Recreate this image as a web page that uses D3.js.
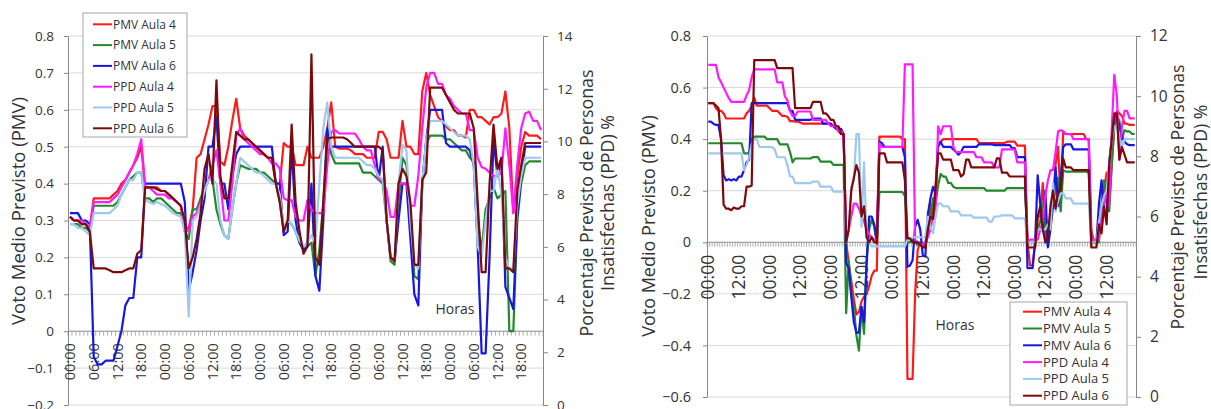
<!DOCTYPE html>
<html>
<head>
<meta charset="utf-8">
<script src="https://cdnjs.cloudflare.com/ajax/libs/d3/7.8.5/d3.min.js"></script>
<style>
  body { margin: 0; background: #fff; }
  svg { display: block; font-family: "Open Sans", "DejaVu Sans", sans-serif; }
  .serie { fill: none; stroke-width: 2.2; stroke-linejoin: round; }
</style>
</head>
<body>
<div id="grafico"></div>
<script>
// Global SVG size
var svgWidth = 1211;
var svgHeight = 409;

// Series names (legend order)
var nombresSeries = ["PMV Aula 4", "PMV Aula 5", "PMV Aula 6", "PPD Aula 4", "PPD Aula 5", "PPD Aula 6"];

// Tick labels of the hour axis
var etiquetasIzq = ["00:00", "06:00", "12:00", "18:00", "00:00", "06:00", "12:00", "18:00",
  "00:00", "06:00", "12:00", "18:00", "00:00", "06:00", "12:00", "18:00",
  "00:00", "06:00", "12:00", "18:00"];
var etiquetasDer = ["00:00", "12:00", "00:00", "12:00", "00:00", "12:00", "00:00",
  "12:00", "00:00", "12:00", "00:00", "12:00", "00:00", "12:00"];

// ---------- Left chart: hourly values (120 h) ----------
var pmvAula4Izq = [0.31,0.30,0.30,0.29,0.29,0.28,
  0.36,0.36,0.36,0.36,0.36,0.37,0.38,0.40,0.41,0.43,0.45,0.47,0.50,
  0.39,0.39,0.39,0.39,0.38,0.38,0.37,0.36,0.35,0.34,
  0.28,0.28,0.33,
  0.47,0.48,0.52,0.56,0.61,0.61,
  0.46,0.45,0.50,0.57,0.63,0.55,
  0.53,0.52,0.51,0.50,0.49,0.48,0.47,0.47,
  0.40,0.40,
  0.51,0.50,0.50,
  0.45,0.45,0.45,
  0.50,
  0.47,0.47,0.47,0.50,
  0.55,0.62,0.50,
  0.495,0.495,0.495,0.49,
  0.48,0.48,0.48,0.47,0.47,0.47,
  0.54,0.54,
  0.52,0.47,0.47,0.47,0.57,0.50,0.50,0.48,0.48,
  0.65,0.70,0.64,0.61,0.58,0.57,0.555,0.545,0.545,0.53,0.53,0.525,
  0.60,0.60,0.58,0.58,0.57,0.56,0.58,0.58,0.59,0.65,0.55,
  0.32,0.42,0.50,0.54,0.53,0.53,0.53,0.52];

var pmvAula5Izq = [0.29,0.29,0.29,0.28,0.28,0.27,
  0.34,0.34,0.34,0.34,0.34,0.34,0.35,0.37,0.39,0.41,0.42,0.43,0.43,
  0.36,0.36,0.35,0.36,0.36,0.35,0.34,0.33,0.32,0.32,
  0.27,0.25,0.33,0.33,0.36,0.39,
  0.41,0.41,0.33,0.29,0.26,0.25,0.33,0.40,0.45,
  0.445,0.44,0.44,0.44,0.43,0.43,0.42,0.41,
  0.40,0.35,0.27,0.30,0.29,0.27,0.24,0.22,0.23,0.24,0.15,0.22,0.35,0.55,0.48,0.455,
  0.455,0.455,0.455,0.455,0.455,0.455,
  0.43,0.43,0.43,0.42,0.41,0.40,
  0.30,0.19,0.18,0.35,0.47,0.45,0.30,0.15,0.14,0.40,0.51,
  0.53,0.53,0.53,0.53,0.52,0.52,0.51,0.50,0.49,0.49,0.47,0.46,
  0.30,0.22,0.33,0.36,0.39,0.36,0.37,0.38,0.00,0.00,
  0.30,0.40,0.45,0.46,0.46,0.46,0.46];

var pmvAula6Izq = [0.32,0.32,0.32,0.30,0.30,0.29,
  -0.07,-0.09,-0.09,-0.08,-0.08,-0.08,-0.04,0.00,0.07,0.09,0.09,0.20,0.20,
  0.40,0.40,0.40,0.40,0.40,0.40,0.40,0.40,0.40,0.40,
  0.35,0.11,0.16,0.22,0.30,0.36,0.50,0.50,0.58,0.40,0.40,0.33,0.42,0.48,0.50,
  0.50,0.50,0.50,0.50,0.50,0.50,0.50,0.50,
  0.40,0.40,0.26,0.27,0.50,0.30,0.24,0.22,0.23,0.40,0.15,0.11,0.30,0.55,0.50,0.50,
  0.50,0.50,0.50,0.50,0.50,0.50,0.50,0.50,0.50,0.50,
  0.41,0.50,0.30,0.20,0.19,0.30,0.40,0.40,0.25,0.10,0.07,0.40,0.52,
  0.60,0.60,0.60,0.60,0.51,0.50,0.50,0.50,0.50,0.50,0.49,0.45,
  0.23,-0.06,-0.06,0.20,0.52,0.42,0.47,0.12,0.09,0.06,
  0.31,0.42,0.50,0.50,0.50,0.50,0.50];

var ppdAula4Izq = [7.14,7.00,7.00,7.00,6.86,6.72,
  7.70,7.70,7.70,7.70,7.70,7.84,7.98,8.26,8.54,8.82,9.10,9.52,10.08,
  8.26,8.26,8.12,7.98,7.98,7.98,7.84,7.84,7.70,7.56,
  6.72,6.58,7.14,7.28,7.70,8.12,8.54,9.10,9.66,8.40,7.00,7.00,8.40,10.22,10.50,
  10.08,9.94,9.80,9.66,9.52,9.52,9.38,9.17,9.17,8.96,
  7.84,7.77,7.77,7.14,7.00,7.00,7.77,7.42,7.28,7.28,7.28,9.10,10.36,10.43,
  10.30,10.30,10.30,10.30,10.30,10.08,9.80,9.66,9.66,9.10,8.54,8.54,
  8.12,7.14,7.14,8.40,8.40,8.40,7.56,7.56,8.68,10.50,12.04,
  12.60,12.60,12.18,12.18,11.76,11.62,11.34,11.20,11.06,11.06,10.43,10.43,
  9.38,9.03,8.96,8.82,8.68,8.68,8.82,10.50,9.10,7.28,
  9.10,10.50,11.06,11.13,10.78,10.78,10.43];

var ppdAula5Izq = [6.86,6.86,6.72,6.72,6.58,6.44,
  7.28,7.28,7.28,7.28,7.28,7.42,7.56,7.98,8.26,8.54,8.54,8.82,8.82,
  7.77,7.70,7.63,7.70,7.63,7.56,7.42,7.28,7.21,7.14,
  6.58,3.36,7.00,7.14,7.56,8.12,8.54,8.54,8.40,7.00,6.44,6.30,7.42,8.40,9.38,
  9.24,9.10,8.96,8.82,8.82,8.68,8.54,8.40,8.40,7.98,
  6.72,7.00,6.86,6.58,6.23,6.02,6.16,6.44,6.16,8.40,10.50,11.48,9.80,9.38,
  9.38,9.38,9.38,9.38,9.38,9.38,9.24,9.10,9.10,8.96,8.68,8.54,
  7.00,5.60,5.46,8.40,9.87,9.66,7.00,5.32,5.18,8.40,10.08,
  10.78,10.78,10.78,10.78,10.64,10.50,10.36,10.22,10.22,10.22,10.08,9.10,
  6.02,5.60,7.00,8.12,8.12,9.03,7.98,5.60,5.18,5.18,
  7.56,8.68,9.38,9.38,9.38,9.38,9.38];

var ppdAula6Izq = [7.14,7.00,7.00,6.86,6.86,6.58,
  5.18,5.18,5.18,5.18,5.11,5.04,5.04,5.04,5.11,5.18,5.18,5.74,5.88,
  8.26,8.26,8.26,8.19,8.12,8.12,7.98,7.84,7.70,7.56,
  7.00,5.18,5.60,6.30,7.28,8.96,9.52,8.40,12.32,8.68,7.84,7.84,9.10,10.36,10.22,
  10.08,10.08,9.94,9.80,9.66,9.52,9.38,9.38,8.40,7.70,
  6.58,7.00,10.64,7.70,6.58,5.74,6.02,13.30,5.60,5.32,7.70,10.08,10.15,10.15,
  10.15,10.15,10.08,9.94,9.80,9.80,9.80,9.80,9.80,9.80,9.80,9.66,
  7.00,5.60,5.46,8.40,8.96,8.68,7.70,5.32,5.32,8.54,8.82,
  12.04,12.04,12.04,12.04,11.76,11.48,11.20,11.06,11.06,11.06,11.06,10.50,
  7.70,5.04,5.04,8.40,10.64,8.96,9.38,5.18,5.18,5.04,
  8.12,9.10,9.94,9.94,9.94,9.94,9.94];

// ---------- Right chart: hourly values (168 h) ----------
var pmvAula4Der = [0.54,0.54,0.54,
  0.52,0.51,0.51,0.50,
  0.48,0.48,0.48,0.48,0.48,0.48,0.48,0.48,
  0.50,0.51,
  0.53,0.56,0.53,0.53,0.53,0.53,0.53,0.52,
  0.51,0.51,0.51,0.50,0.49,0.49,0.487,
  0.47,0.47,0.468,0.468,0.465,
  0.46,0.46,0.46,0.46,0.46,0.46,0.46,0.46,0.46,0.46,0.46,0.46,
  0.45,0.445,0.43,0.42,0.42,
  0.0,-0.08,-0.15,-0.22,-0.28,-0.27,-0.23,-0.21,-0.20,-0.17,-0.13,-0.11,-0.11,
  0.41,0.41,0.41,0.41,0.41,0.41,0.41,0.41,0.41,0.40,0.40,
  -0.53,-0.53,-0.53,
  -0.20,-0.03,0.0,-0.01,-0.02,0.05,0.15,0.10,0.22,0.38,0.39,
  0.40,0.40,0.40,0.40,0.40,0.40,0.40,0.40,0.40,0.40,0.40,0.40,0.40,0.40,
  0.385,0.385,0.385,0.385,0.385,0.385,0.385,0.385,0.385,0.385,0.385,
  0.39,0.39,0.39,0.39,
  0.375,0.375,0.375,0.375,
  0.0,-0.09,-0.09,0.0,0.10,0.10,0.23,0.05,0.0,0.12,0.14,0.30,0.37,0.15,0.43,
  0.42,0.42,0.42,0.42,0.42,0.42,0.42,0.42,0.40,0.40,
  0.05,0.0,0.0,0.05,0.10,0.20,0.27,0.15,0.30,0.45,0.51,0.50,0.49,0.46,0.46,0.455,0.455,0.455];

var pmvAula5Der = [0.384,0.384,0.384,0.384,0.384,0.384,0.384,0.384,0.384,0.384,0.384,0.384,0.384,0.384,
  0.345,0.345,0.345,
  0.40,0.41,0.41,0.41,0.41,0.41,
  0.40,0.40,0.40,0.40,0.40,
  0.38,0.38,0.38,0.38,
  0.35,0.31,
  0.325,0.325,0.325,0.325,0.325,0.325,0.325,
  0.33,0.33,0.33,
  0.313,0.313,0.313,0.313,0.313,
  0.30,0.30,0.30,0.30,0.30,
  -0.275,-0.07,-0.20,-0.25,-0.36,-0.42,-0.25,-0.355,-0.08,0.05,0.09,0.06,0.0,
  0.195,0.195,0.195,0.195,0.195,0.195,0.195,0.195,0.195,0.195,0.18,
  0.0,0.0,0.01,0.0,-0.01,0.0,-0.01,0.0,0.05,0.10,0.17,0.15,0.22,
  0.265,0.255,0.255,0.23,0.23,0.215,
  0.21,0.21,0.21,0.21,0.21,0.21,0.21,0.21,0.21,0.21,0.21,0.21,
  0.20,0.20,0.20,0.20,0.20,0.20,0.20,0.20,
  0.21,0.21,0.21,0.21,0.21,0.21,0.21,0.21,
  0.01,0.0,0.0,0.0,0.05,0.08,0.15,0.0,0.0,0.10,0.15,0.20,0.25,0.12,0.28,
  0.274,0.274,0.274,0.274,0.274,0.274,0.274,0.274,0.274,0.27,
  0.01,0.0,0.0,0.0,0.15,0.24,0.18,0.12,0.30,0.45,0.49,0.47,0.40,0.435,0.43,0.43,0.42,0.42];

var pmvAula6Der = [0.468,0.468,0.46,0.455,0.455,
  0.40,0.26,0.24,0.245,0.24,0.245,0.24,0.255,0.255,0.28,0.31,0.32,
  0.54,0.54,0.54,0.54,0.54,0.54,0.54,0.54,0.54,0.54,0.54,0.54,0.54,0.54,0.54,
  0.51,0.51,
  0.475,0.475,0.475,0.475,0.475,0.475,0.475,
  0.48,0.48,0.48,0.48,
  0.46,0.46,0.46,0.46,0.45,0.44,0.44,0.44,0.42,
  -0.08,-0.10,-0.21,-0.31,-0.35,-0.35,-0.25,-0.31,-0.08,0.10,0.10,0.07,0.0,
  0.39,0.385,0.37,0.37,0.37,0.37,0.37,0.37,0.37,0.37,0.33,
  -0.095,-0.09,-0.07,0.06,0.087,0.05,-0.05,-0.055,0.11,0.17,0.215,0.19,0.37,0.39,
  0.37,0.37,0.37,0.37,0.36,0.35,0.34,0.35,0.37,0.37,0.37,0.37,0.37,0.37,0.38,0.38,0.38,0.38,0.38,0.38,
  0.377,0.377,0.377,0.377,0.377,0.377,0.377,0.365,0.365,0.33,0.33,0.33,0.33,
  -0.10,-0.10,-0.10,0.0,0.26,0.15,0.05,0.20,-0.02,0.05,0.14,0.29,0.14,0.25,0.37,
  0.38,0.38,0.38,0.36,0.36,0.36,0.36,0.36,0.36,0.36,
  0.0,0.0,0.0,0.15,0.24,0.11,0.10,0.31,0.40,0.49,0.49,0.45,0.41,0.39,0.38,0.377,0.377,0.377];

var ppdAula4Der = [11.04,11.04,11.04,11.04,
  10.63,10.46,10.29,10.11,9.94,
  9.81,9.81,9.81,9.81,9.81,9.81,
  10.03,10.20,10.63,
  10.89,10.89,10.89,10.89,10.89,10.89,10.89,10.89,10.89,
  10.46,10.46,10.46,
  9.99,9.86,9.51,9.34,9.34,
  9.49,9.49,9.49,9.49,9.49,9.49,
  9.21,9.21,9.21,9.21,9.21,9.21,
  9.09,
  9.00,9.00,9.00,
  8.83,8.83,8.74,
  5.14,5.57,6.00,6.43,6.43,6.26,6.00,5.83,5.57,5.40,5.31,5.23,5.23,
  8.44,
  8.31,8.31,8.31,8.31,8.31,8.31,8.31,8.31,8.31,
  11.06,11.06,11.06,11.06,
  5.23,5.14,5.06,5.06,5.14,5.31,5.57,6.00,6.00,
  9.00,8.74,9.00,9.00,9.00,9.00,
  8.31,8.14,8.14,8.14,8.14,8.14,8.14,8.14,8.14,7.97,7.97,7.97,7.80,7.80,7.80,7.80,
  7.63,7.63,7.63,8.23,8.23,8.23,8.23,8.23,8.23,7.80,7.80,7.80,7.80,
  5.14,5.23,5.23,5.23,5.23,5.57,5.83,6.69,7.20,7.54,7.54,8.14,8.83,8.87,8.83,
  8.74,8.74,8.74,8.57,8.57,8.57,8.57,8.57,8.57,8.57,
  5.14,5.23,5.23,5.23,6.00,6.34,6.86,6.34,8.91,10.71,10.03,7.89,9.00,9.51,9.51,9.26,9.26,9.26];

var ppdAula5Der = [8.10,8.10,8.10,8.10,8.10,8.10,8.10,8.10,8.10,8.10,8.10,8.10,8.10,8.10,
  7.54,7.71,7.97,8.40,8.57,8.57,
  8.31,8.31,8.31,8.31,8.31,8.31,8.23,7.97,7.97,7.97,7.97,7.71,7.33,7.33,
  7.11,7.11,7.11,7.11,7.11,7.11,7.11,7.16,7.16,7.16,
  6.99,6.99,6.99,6.99,6.99,6.83,6.83,6.83,6.83,6.83,
  5.14,5.57,6.99,7.20,8.74,8.74,5.66,7.80,5.31,5.14,5.01,5.01,5.01,
  5.01,5.01,5.01,5.01,5.01,5.01,5.01,5.01,5.01,5.01,5.01,
  5.23,5.23,5.31,5.31,5.31,5.31,5.31,5.31,6.00,5.66,5.44,6.00,6.43,6.43,
  6.34,6.34,6.34,6.17,6.17,6.17,6.17,6.04,6.04,6.04,6.04,6.04,5.96,5.96,5.96,5.96,5.96,5.96,5.83,5.83,
  6.00,6.00,6.00,6.04,6.04,6.04,6.04,6.04,5.94,5.94,5.94,5.94,5.94,
  5.14,5.14,5.14,5.14,5.57,5.57,5.57,5.57,5.74,5.57,7.11,6.17,6.51,6.77,6.77,
  6.60,6.60,6.60,6.43,6.43,6.43,6.43,6.43,6.43,6.43,
  5.14,5.14,5.14,5.83,6.34,6.69,6.86,7.71,8.57,9.00,9.00,8.57,8.31,8.57,8.57,8.57,8.57,8.57];

var ppdAula6Der = [9.77,9.77,9.77,9.69,9.60,8.57,6.39,
  6.26,6.26,6.21,6.30,6.26,6.26,
  6.34,6.34,
  6.99,6.99,7.03,
  11.20,11.20,11.20,11.20,11.20,11.20,11.20,11.20,11.20,
  10.93,10.93,10.93,10.93,10.93,10.93,10.93,
  9.60,9.60,9.60,9.60,9.60,9.60,9.60,
  9.81,9.81,9.81,9.81,
  9.43,9.43,9.34,
  9.21,9.21,
  9.00,9.00,
  8.74,8.74,
  5.14,5.57,6.86,7.29,7.71,7.46,6.00,6.34,5.31,5.14,5.31,5.14,5.14,
  8.10,8.10,8.10,
  7.80,7.80,7.80,7.80,7.80,7.80,7.80,
  7.20,
  5.27,5.27,
  5.14,5.14,5.14,5.06,4.97,4.97,
  5.57,6.00,5.91,6.86,
  8.10,8.10,
  7.89,7.89,7.89,7.89,
  7.54,7.54,7.54,
  7.33,7.41,
  7.89,7.89,
  7.63,7.63,7.63,7.63,7.63,7.63,7.63,7.63,7.63,
  7.63,
  7.93,7.93,
  7.46,7.46,7.46,
  7.33,7.33,7.33,7.33,7.33,7.33,7.33,
  4.97,4.97,4.97,4.97,
  6.00,6.34,5.57,5.14,5.31,6.34,6.86,6.26,6.86,6.86,7.93,
  7.63,7.63,7.63,
  7.54,7.54,7.54,7.54,7.54,7.54,7.54,
  4.97,4.97,4.97,
  5.74,5.44,6.34,5.74,7.71,8.57,9.43,9.43,7.89,8.31,8.06,7.80,7.80,7.80,7.80];

// Series colours (legend order)
var coloresSeries = ["#ff1a1a", "#23892b", "#1717e0", "#ff1aff", "#9ec8f0", "#7d0a0a"];

// Build chart configurations
var graficoIzq = {
  numHoras: 120, left: 68, right: 543, top: 36, bottom: 405,
  dominioPMV: [-0.2, 0.8], ticksPMV: d3.range(-2, 9).map(d => d / 10),
  dominioPPD: [0, 14], ticksPPD: d3.range(0, 15, 2),
  etiquetas: etiquetasIzq, paso: 6,
  pmv: [pmvAula4Izq, pmvAula5Izq, pmvAula6Izq],
  ppd: [ppdAula4Izq, ppdAula5Izq, ppdAula6Izq],
  fsTick: 13.5, fsTickDer: 13.5, fsEtiqueta: 14.5, sepEtiqueta: 12, padIzq: 10,
  tituloIzq: {x: 18.5, y: 211, largo: 228},
  tituloDer: [{x: 586.5, y: 203, largo: 267}, {x: 608, y: 203, largo: 183}],
  horas: {x: 455, y: 309},
  leyenda: {x: 83, y: 13, w: 104, h: 124, fila0: 24.3, paso: 20.8, lx1: 93, lx2: 112, tx: 113, fs: 12}
};

var graficoDer = {
  numHoras: 168, left: 707, right: 1136, top: 36, bottom: 397,
  dominioPMV: [-0.6, 0.8], ticksPMV: d3.range(-3, 5).map(d => d / 5),
  dominioPPD: [0, 12], ticksPPD: d3.range(0, 13, 2),
  etiquetas: etiquetasDer, paso: 12,
  pmv: [pmvAula4Der, pmvAula5Der, pmvAula6Der],
  ppd: [ppdAula4Der, ppdAula5Der, ppdAula6Der],
  fsTick: 14.5, fsTickDer: 15.5, fsEtiqueta: 17.5, sepEtiqueta: 12.5, padIzq: 12,
  tituloIzq: {x: 648.5, y: 226, largo: 222},
  tituloDer: [{x: 1177.5, y: 197, largo: 265}, {x: 1200.5, y: 192, largo: 183}],
  horas: {x: 955, y: 325},
  leyenda: {x: 1010, y: 302, w: 117, h: 103, fila0: 311.7, paso: 16.8, lx1: 1023, lx2: 1042, tx: 1043, fs: 13}
};

var colorTexto = "#333";

function formatoPMV(d) {
  return Math.abs(d) < 1e-9 ? "0" : d3.format(".1f")(d);
}

// stretch/shrink a text's font size until it spans the wanted length
function ajustarTexto(sel, largo) {
  var l = sel.node().getComputedTextLength();
  var fs = parseFloat(sel.attr("font-size"));
  if (l > 0) sel.attr("font-size", fs * largo / l);
}

function dibujarGrafico(svg, cfg) {
  var g = svg.append("g");

  var x = d3.scaleBand().domain(d3.range(cfg.numHoras)).range([cfg.left, cfg.right]);
  var yPMV = d3.scaleLinear().domain(cfg.dominioPMV).range([cfg.bottom, cfg.top]);
  var yPPD = d3.scaleLinear().domain(cfg.dominioPPD).range([cfg.bottom, cfg.top]);
  var centro = i => x(i) + x.bandwidth() / 2;

  // horizontal gridlines (primary axis)
  g.append("g").selectAll("line")
    .data(cfg.ticksPMV)
    .enter()
    .append("line")
    .attr("x1", cfg.left).attr("x2", cfg.right)
    .attr("y1", d => yPMV(d)).attr("y2", d => yPMV(d))
    .attr("stroke", "#d9d9d9")
    .attr("stroke-width", 1);

  // left (PMV) axis
  var ejeIzq = g.append("g")
    .attr("transform", `translate(${cfg.left},0)`)
    .call(d3.axisLeft(yPMV).tickValues(cfg.ticksPMV).tickFormat(formatoPMV)
      .tickSize(4).tickSizeOuter(0).tickPadding(cfg.padIzq));
  ejeIzq.select(".domain").attr("stroke", "#868686");
  ejeIzq.selectAll(".tick line").attr("stroke", "#868686");
  ejeIzq.selectAll(".tick text")
    .attr("fill", colorTexto)
    .attr("font-size", cfg.fsTick)
    .attr("font-family", "Open Sans, sans-serif");

  // right (PPD) axis
  var ejeDer = g.append("g")
    .attr("transform", `translate(${cfg.right},0)`)
    .call(d3.axisRight(yPPD).tickValues(cfg.ticksPPD)
      .tickSize(5).tickSizeOuter(0).tickPadding(9));
  ejeDer.select(".domain").attr("stroke", "#868686");
  ejeDer.selectAll(".tick line").attr("stroke", "#868686");
  ejeDer.selectAll(".tick text")
    .attr("fill", colorTexto)
    .attr("font-size", cfg.fsTickDer)
    .attr("font-family", "Open Sans, sans-serif");

  // hour axis crossing at PMV = 0
  var y0 = yPMV(0);
  g.append("line")
    .attr("x1", cfg.left).attr("x2", cfg.right)
    .attr("y1", y0).attr("y2", y0)
    .attr("stroke", "#9a9a9a");
  g.append("g").selectAll("line")
    .data(d3.range(cfg.numHoras + 1))
    .enter()
    .append("line")
    .attr("x1", d => cfg.left + d * x.step()).attr("x2", d => cfg.left + d * x.step())
    .attr("y1", y0).attr("y2", y0 + 4.5)
    .attr("stroke", "#9a9a9a")
    .attr("stroke-width", 0.8);

  // rotated hour labels
  g.append("g").selectAll("text")
    .data(cfg.etiquetas)
    .enter()
    .append("text")
    .attr("transform", (d, k) => `translate(${centro(k * cfg.paso)},${y0 + cfg.sepEtiqueta}) rotate(-90)`)
    .attr("dy", "0.35em")
    .attr("text-anchor", "end")
    .attr("font-size", cfg.fsEtiqueta)
    .attr("fill", colorTexto)
    .text(d => d);

  // series lines: PMV on the left axis, PPD on the right axis
  var lineaPMV = d3.line().x((d, i) => centro(i)).y(d => yPMV(d));
  var lineaPPD = d3.line().x((d, i) => centro(i)).y(d => yPPD(d));

  cfg.pmv.forEach(function(serie, k) {
    g.append("path")
      .datum(serie)
      .attr("class", "serie")
      .attr("stroke", coloresSeries[k])
      .attr("d", lineaPMV);
  });
  cfg.ppd.forEach(function(serie, k) {
    g.append("path")
      .datum(serie)
      .attr("class", "serie")
      .attr("stroke", coloresSeries[k + 3])
      .attr("d", lineaPPD);
  });

  // axis titles
  var t1 = g.append("text")
    .attr("transform", `translate(${cfg.tituloIzq.x},${cfg.tituloIzq.y}) rotate(-90)`)
    .attr("text-anchor", "middle")
    .attr("dy", "0.35em")
    .attr("font-size", 16)
    .attr("fill", colorTexto)
    .text("Voto Medio Previsto (PMV)");
  ajustarTexto(t1, cfg.tituloIzq.largo);

  var textosDer = ["Porcentaje Previsto de Personas", "Insatisfechas (PPD) %"];
  var fsDer = 16;
  cfg.tituloDer.forEach(function(p, k) {
    var t = g.append("text")
      .attr("transform", `translate(${p.x},${p.y}) rotate(-90)`)
      .attr("text-anchor", "middle")
      .attr("dy", "0.35em")
      .attr("font-size", fsDer)
      .attr("fill", colorTexto)
      .text(textosDer[k]);
    if (k === 0) {
      ajustarTexto(t, p.largo);
      fsDer = parseFloat(t.attr("font-size"));
    }
  });

  g.append("text")
    .attr("x", cfg.horas.x).attr("y", cfg.horas.y)
    .attr("text-anchor", "middle")
    .attr("dy", "0.35em")
    .attr("font-size", 14)
    .attr("fill", colorTexto)
    .text("Horas");

  // legend
  var ly = cfg.leyenda;
  var leyenda = g.append("g");
  leyenda.append("rect")
    .attr("x", ly.x).attr("y", ly.y)
    .attr("width", ly.w).attr("height", ly.h)
    .attr("fill", "#fff")
    .attr("stroke", "#a6a6a6");
  var filas = leyenda.selectAll("g.fila")
    .data(nombresSeries)
    .enter()
    .append("g")
    .attr("class", "fila")
    .attr("transform", (d, k) => `translate(0,${ly.fila0 + k * ly.paso})`);
  filas.append("line")
    .attr("x1", ly.lx1).attr("x2", ly.lx2)
    .attr("stroke", (d, k) => coloresSeries[k])
    .attr("stroke-width", 2);
  filas.append("text")
    .attr("x", ly.tx)
    .attr("dy", "0.35em")
    .attr("font-size", ly.fs)
    .attr("fill", colorTexto)
    .text(d => d);
}

var svg = d3.select("#grafico")
  .append("svg")
  .attr("width", svgWidth)
  .attr("height", svgHeight);

svg.append("rect")
  .attr("width", svgWidth).attr("height", svgHeight)
  .attr("fill", "#fff");

dibujarGrafico(svg, graficoIzq);
dibujarGrafico(svg, graficoDer);
</script>
</body>
</html>
